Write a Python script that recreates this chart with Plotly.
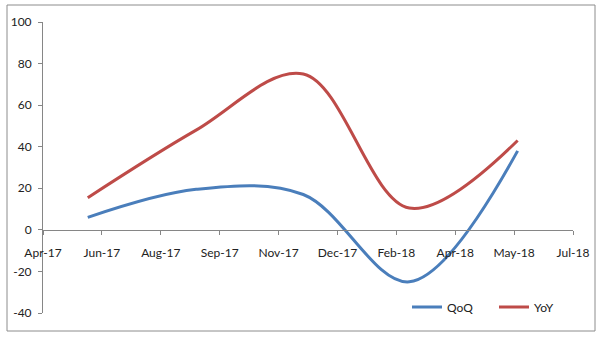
import plotly.graph_objects as go

dates = ["2017-06-01", "2017-09-01", "2017-12-01", "2018-03-01", "2018-06-01"]
qoq = [6, 19.5, 17, -25, 38]
yoy = [15.5, 48, 75, 10.5, 43]
y_ticks = [-40, -20, 0, 20, 40, 60, 80, 100]
y_tick_labels = ["-40", "-20", "0", "20", "40", "60", "80", "100"]

W, H = 600, 338
L, R, T, B = 43, 27, 22, 25
pw, ph = W - L - R, H - T - B

def px_x(x):
    return (x - L) / pw

def px_y(y):
    return (H - B - y) / ph

fig = go.Figure()
fig.add_trace(go.Scatter(x=dates, y=qoq, name="QoQ", mode="lines",
                         line=dict(color="#4A7EBB", width=3, shape="spline", smoothing=1)))
fig.add_trace(go.Scatter(x=dates, y=yoy, name="YoY", mode="lines",
                         line=dict(color="#BE4B48", width=3, shape="spline", smoothing=1)))

font = dict(family="Lato, Carlito, Calibri, sans-serif", size=12, color="#222")
axis_col = "#868686"

fig.update_layout(
    width=W, height=H,
    margin=dict(l=L, r=R, t=T, b=B, autoexpand=False),
    paper_bgcolor="white", plot_bgcolor="white",
    font=font,
    showlegend=True,
    legend=dict(orientation="h", x=px_x(407), y=px_y(307), xanchor="left", yanchor="middle",
                font=font, bgcolor="rgba(0,0,0,0)", itemwidth=30,
                entrywidth=42, entrywidthmode="pixels"),
    xaxis=dict(type="date", range=["2017-04-24", "2018-07-18"],
               tick0="2017-04-24", dtick=50 * 86400000, tickformat="%b-%y",
               showgrid=False, zeroline=False, showline=True, linecolor=axis_col, linewidth=1,
               ticks="outside", ticklen=4, tickcolor=axis_col, ticklabelstandoff=8,
               anchor="free", position=40 / 140),
    yaxis=dict(range=[-40, 100], tickvals=y_ticks, ticktext=y_tick_labels,
               showgrid=False, zeroline=False,
               showline=True, linecolor=axis_col, linewidth=1,
               ticks="outside", ticklen=4, tickcolor=axis_col, ticklabelstandoff=4),
    shapes=[dict(type="rect", xref="paper", yref="paper",
                 x0=px_x(7), x1=px_x(595), y0=px_y(331), y1=px_y(5),
                 line=dict(color="#8c8c8c", width=1), fillcolor="rgba(0,0,0,0)", layer="below")],
)

fig.write_html("out.html")
